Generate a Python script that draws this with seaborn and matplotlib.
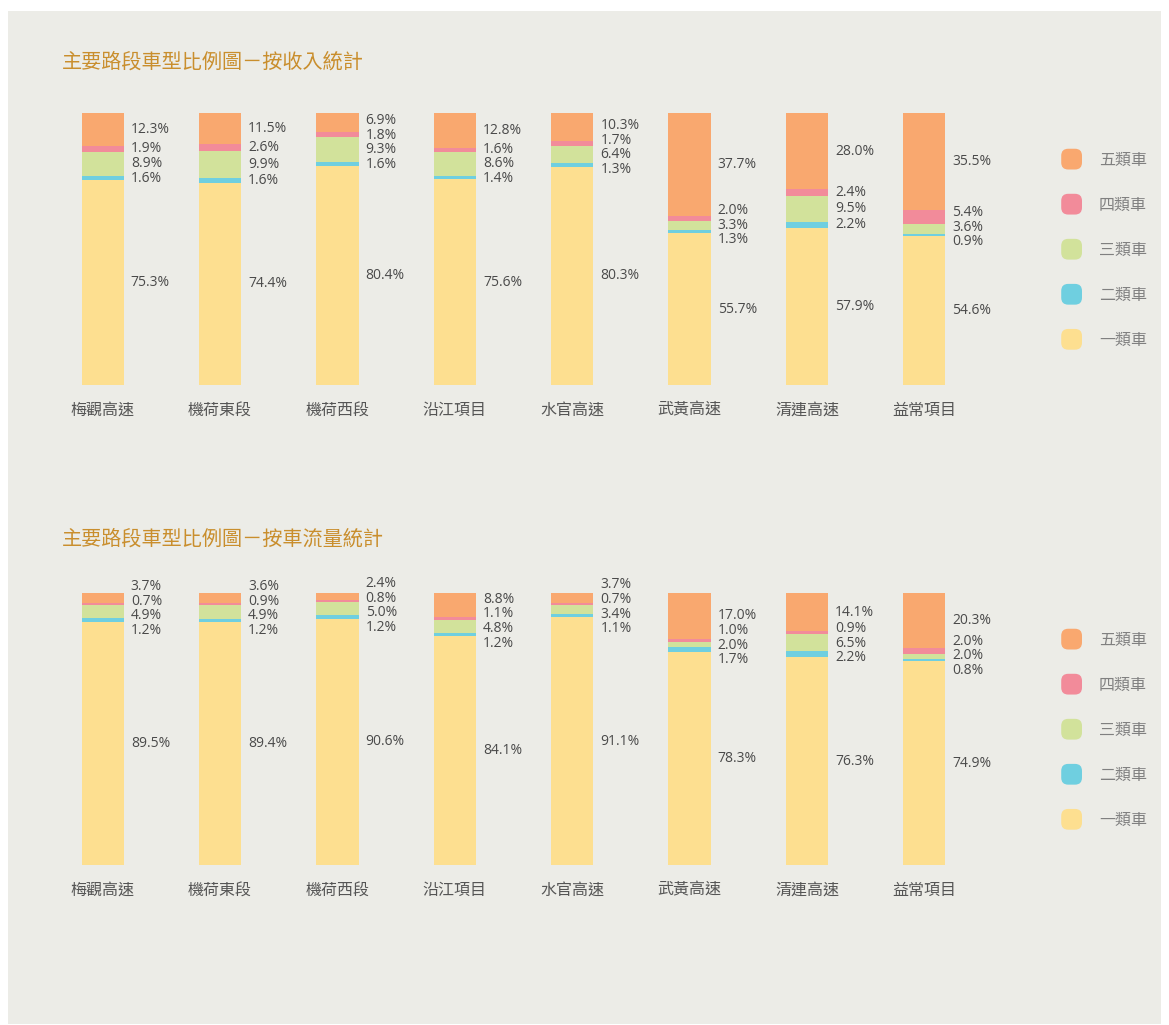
import numpy as np
import pandas as pd
import matplotlib
matplotlib.use("Agg")
from matplotlib import pyplot as plt
from matplotlib.patches import FancyBboxPatch, Rectangle, Patch
from matplotlib.legend_handler import HandlerPatch
import seaborn as sns

# data
roads = ['梅觀高速', '機荷東段', '機荷西段', '沿江項目', '水官高速', '武黃高速', '清連高速', '益常項目']
classes = ['一類車', '二類車', '三類車', '四類車', '五類車']

# income share (%)
inc_c1 = [75.3, 74.4, 80.4, 75.6, 80.3, 55.7, 57.9, 54.6]
inc_c2 = [1.6, 1.6, 1.6, 1.4, 1.3, 1.3, 2.2, 0.9]
inc_c3 = [8.9, 9.9, 9.3, 8.6, 6.4, 3.3, 9.5, 3.6]
inc_c4 = [1.9, 2.6, 1.8, 1.6, 1.7, 2.0, 2.4, 5.4]
inc_c5 = [12.3, 11.5, 6.9, 12.8, 10.3, 37.7, 28.0, 35.5]

# traffic share (%)
trf_c1 = [89.5, 89.4, 90.6, 84.1, 91.1, 78.3, 76.3, 74.9]
trf_c2 = [1.2, 1.2, 1.2, 1.2, 1.1, 1.7, 2.2, 0.8]
trf_c3 = [4.9, 4.9, 5.0, 4.8, 3.4, 2.0, 6.5, 2.0]
trf_c4 = [0.7, 0.9, 0.8, 1.1, 0.7, 1.0, 0.9, 2.0]
trf_c5 = [3.7, 3.6, 2.4, 8.8, 3.7, 17.0, 14.1, 20.3]

titles = ['主要路段車型比例圖－按收入統計', '主要路段車型比例圖－按車流量統計']

colors = ['#FDDF90', '#6FCFE0', '#D2E29B', '#F28B9A', '#F9A86F']
bg = '#ECECE7'
text_col = '#4A4A4A'
title_col = '#C98E2D'
cjk = ['Noto Sans CJK TC', 'DejaVu Sans']

sns.set_theme(style='white')
plt.rcParams['font.family'] = ['Open Sans', 'Noto Sans CJK TC', 'DejaVu Sans']

W, H = 1169, 1025
fig = plt.figure(figsize=(W / 100, H / 100), dpi=100)
fig.patch.set_facecolor('white')
fig.add_artist(Rectangle((8 / W, 1 - 1024 / H), 1153 / W, 1013 / H,
                         transform=fig.transFigure, facecolor=bg, edgecolor='none', zorder=-10))


class RoundHandler(HandlerPatch):
    def create_artists(self, legend, orig_handle, xdescent, ydescent, width, height, fontsize, trans):
        s = width
        p = FancyBboxPatch((-xdescent, -ydescent + (height - s) / 2), s, s,
                           boxstyle='round,pad=0,rounding_size=5',
                           facecolor=orig_handle.get_facecolor(), edgecolor='none', transform=trans)
        return [p]


def spread(targets, gap):
    # push overlapping labels apart, keeping each group's mean at its targets' mean
    order = np.argsort(targets)
    t = np.array(targets)[order]
    groups = [[i] for i in range(len(t))]
    changed = True
    while changed:
        changed = False
        pos = []
        for g in groups:
            m = t[g].mean()
            pos.append([m + (k - (len(g) - 1) / 2) * gap for k in range(len(g))])
        for i in range(len(groups) - 1):
            if pos[i + 1][0] - pos[i][-1] < gap:
                groups[i] = groups[i] + groups[i + 1]
                del groups[i + 1]
                changed = True
                break
    out = np.empty(len(t))
    for g in groups:
        m = t[g].mean()
        for k, idx in enumerate(g):
            out[order[idx]] = m + (k - (len(g) - 1) / 2) * gap
    return out


def draw(ax, series, title, top_px):
    df = pd.DataFrame({c: s for c, s in zip(classes, series)}, index=roads)
    cum = df.cumsum(axis=1)
    # draw cumulative bars from top layer down so each visible band is one class
    for c, col in reversed(list(zip(classes, colors))):
        sns.barplot(x=roads, y=cum[c].values, color=col, width=0.36,
                    saturation=1, linewidth=0, edgecolor='none', ax=ax, zorder=2)
    ax.set_ylim(0, 100)
    ax.set_xlim(-0.5, len(roads) - 0.5)
    ax.set_facecolor('none')
    for s in ax.spines.values():
        s.set_visible(False)
    ax.set_yticks([])
    ax.set_ylabel('')
    ax.tick_params(axis='x', length=0, pad=12, labelsize=11.5, labelcolor='#555555')
    for t in ax.get_xticklabels():
        t.set_family(cjk)

    gap = 5.4
    for i, road in enumerate(roads):
        vals = df.loc[road].values
        lows = np.concatenate([[0], cum.loc[road].values[:-1]])
        centers = lows + vals / 2
        ys = spread(list(centers), gap)
        for v, y in zip(vals, ys):
            ax.text(i + 0.18 + 0.06, y, f'{v:.1f}%', va='center', ha='left',
                    fontsize=10, color=text_col)

    fig.text(62 / W, 1 - top_px / H, title, fontsize=14.5, fontweight='medium',
             family=cjk, color=title_col, va='center', ha='left')

    handles = [Patch(facecolor=c, label=l) for c, l in zip(colors[::-1], classes[::-1])]
    leg = ax.legend(handles=handles, loc='center left', bbox_to_anchor=(1.068, 0.498),
                    frameon=False, handler_map={Patch: RoundHandler()},
                    handlelength=1.3, handleheight=1.3, labelspacing=1.69,
                    handletextpad=1.05, fontsize=11.5, labelcolor='#808080')
    for t in leg.get_texts():
        t.set_family(cjk)


left = 44 / W
width = (983 - 44) / W
ax1 = fig.add_axes([left, 1 - 385 / H, width, 272 / H])
ax2 = fig.add_axes([left, 1 - 865 / H, width, 272 / H])

draw(ax1, [inc_c1, inc_c2, inc_c3, inc_c4, inc_c5], titles[0], 62)
draw(ax2, [trf_c1, trf_c2, trf_c3, trf_c4, trf_c5], titles[1], 539)

fig.savefig('out.png', dpi=100, facecolor=fig.get_facecolor())
